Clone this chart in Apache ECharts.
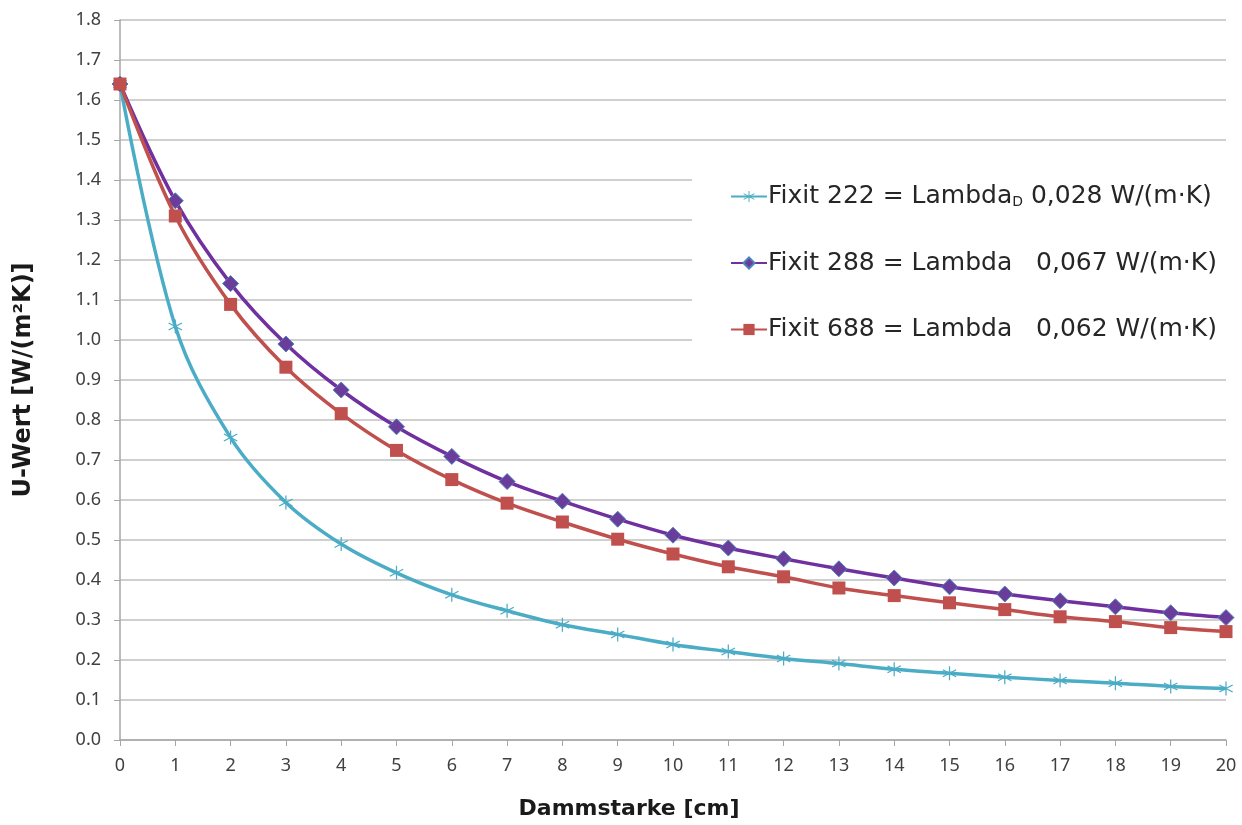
<!DOCTYPE html>
<html>
<head>
<meta charset="utf-8">
<script src="https://cdn.jsdelivr.net/npm/echarts@6/dist/echarts.min.js"></script>
<style>html,body{margin:0;padding:0;background:#fff;overflow:hidden}#c{width:1242px;height:825px}</style>
</head>
<body>
<div id="c"></div>
<script>
const thickness = [0,1,2,3,4,5,6,7,8,9,10,11,12,13,14,15,16,17,18,19,20];
const fixit222 = [1.64,1.034,0.756,0.594,0.490,0.418,0.363,0.323,0.288,0.264,0.239,0.221,0.204,0.191,0.177,0.167,0.157,0.149,0.142,0.134,0.129];
const fixit288 = [1.64,1.348,1.141,0.990,0.875,0.783,0.709,0.646,0.597,0.552,0.512,0.480,0.453,0.428,0.405,0.383,0.365,0.348,0.333,0.318,0.306];
const fixit688 = [1.64,1.310,1.089,0.932,0.816,0.724,0.651,0.592,0.545,0.502,0.465,0.433,0.408,0.380,0.361,0.343,0.326,0.308,0.296,0.281,0.271];
const seriesNames = ['Fixit 222','Fixit 288','Fixit 688'];
const legendLabels = {
  'Fixit 222': 'Fixit 222 = Lambda{sub|D} 0,028 W/(m·K)',
  'Fixit 288': 'Fixit 288 = Lambda   0,067 W/(m·K)',
  'Fixit 688': 'Fixit 688 = Lambda   0,062 W/(m·K)'
};
const xName = 'Dammstarke [cm]';
const yName = 'U-Wert [W/(m²K)]';

const FONT = '"Noto Sans", "DejaVu Sans", sans-serif';
const WIDE = '"DejaVu Sans", "Noto Sans", sans-serif';
const pair = (xs, ys) => xs.map((x, i) => [x, ys[i]]);
const asterisk = 'path://M-0.8,-10L0.8,-10L0.8,10L-0.8,10Z M8.26,-5.7L9.06,-4.3L-8.26,5.7L-9.06,4.3Z M-9.06,-4.3L-8.26,-5.7L9.06,4.3L8.26,5.7Z';

const chart = echarts.init(document.getElementById('c'), null, {renderer: 'canvas', width: 1242, height: 825});
chart.setOption({
  animation: false,
  backgroundColor: '#fff',
  textStyle: {fontFamily: FONT},
  grid: {left: 120, right: 16, top: 20, bottom: 69, containLabel: false},
  legend: {
    orient: 'vertical',
    left: 692, top: 164,
    padding: [20, 40, 22, 38],
    backgroundColor: '#fff',
    itemGap: 41.5,
    itemWidth: 36, itemHeight: 14,
    data: seriesNames,
    formatter: n => legendLabels[n],
    textStyle: {
      fontFamily: WIDE, fontSize: 25, color: '#262626', padding: [0,0,0,-4],
      rich: {sub: {fontFamily: WIDE, fontSize: 14, color: '#262626', padding: [11,0,0,0]}}
    }
  },
  xAxis: {
    type: 'value', min: 0, max: 20, interval: 1,
    name: xName, nameLocation: 'middle', nameGap: 58,
    nameTextStyle: {fontFamily: WIDE, fontSize: 22, fontWeight: 'bold', color: '#1a1a1a', padding: [0, 88, 0, 0]},
    axisLine: {lineStyle: {color: '#A6A6A6', width: 1.5}},
    axisTick: {show: true, length: 6, lineStyle: {color: '#A6A6A6'}},
    axisLabel: {fontFamily: FONT, fontSize: 18, color: '#404040', margin: 17},
    splitLine: {show: false}
  },
  yAxis: {
    type: 'value', min: 0, max: 1.8, interval: 0.1,
    name: yName, nameLocation: 'middle', nameGap: 84,
    nameTextStyle: {fontFamily: WIDE, fontSize: 24, fontWeight: 'bold', color: '#1a1a1a'},
    axisLine: {show: true, lineStyle: {color: '#A6A6A6', width: 1.5}},
    axisTick: {show: true, length: 6, lineStyle: {color: '#A6A6A6'}},
    axisLabel: {fontFamily: FONT, fontSize: 18, color: '#404040', margin: 19, formatter: v => v.toFixed(1)},
    splitLine: {show: true, lineStyle: {color: '#BFBFBF', width: 1.5}}
  },
  series: [
    {
      name: 'Fixit 222', type: 'line', smooth: 0.35,
      data: pair(thickness, fixit222),
      symbol: asterisk, symbolSize: 14,
      itemStyle: {color: '#4BACC6'},
      lineStyle: {color: '#4BACC6', width: 3.5},
      z: 3
    },
    {
      name: 'Fixit 288', type: 'line', smooth: 0.35,
      data: pair(thickness, fixit288),
      symbol: 'diamond', symbolSize: 16,
      itemStyle: {color: '#6A3D9A', borderColor: '#4F81BD', borderWidth: 1},
      lineStyle: {color: '#7030A0', width: 3.5},
      z: 4
    },
    {
      name: 'Fixit 688', type: 'line', smooth: 0.35,
      data: pair(thickness, fixit688),
      symbol: 'rect', symbolSize: 13,
      itemStyle: {color: '#C0504D'},
      lineStyle: {color: '#C0504D', width: 3.5},
      z: 5
    }
  ]
});
</script>
</body>
</html>
